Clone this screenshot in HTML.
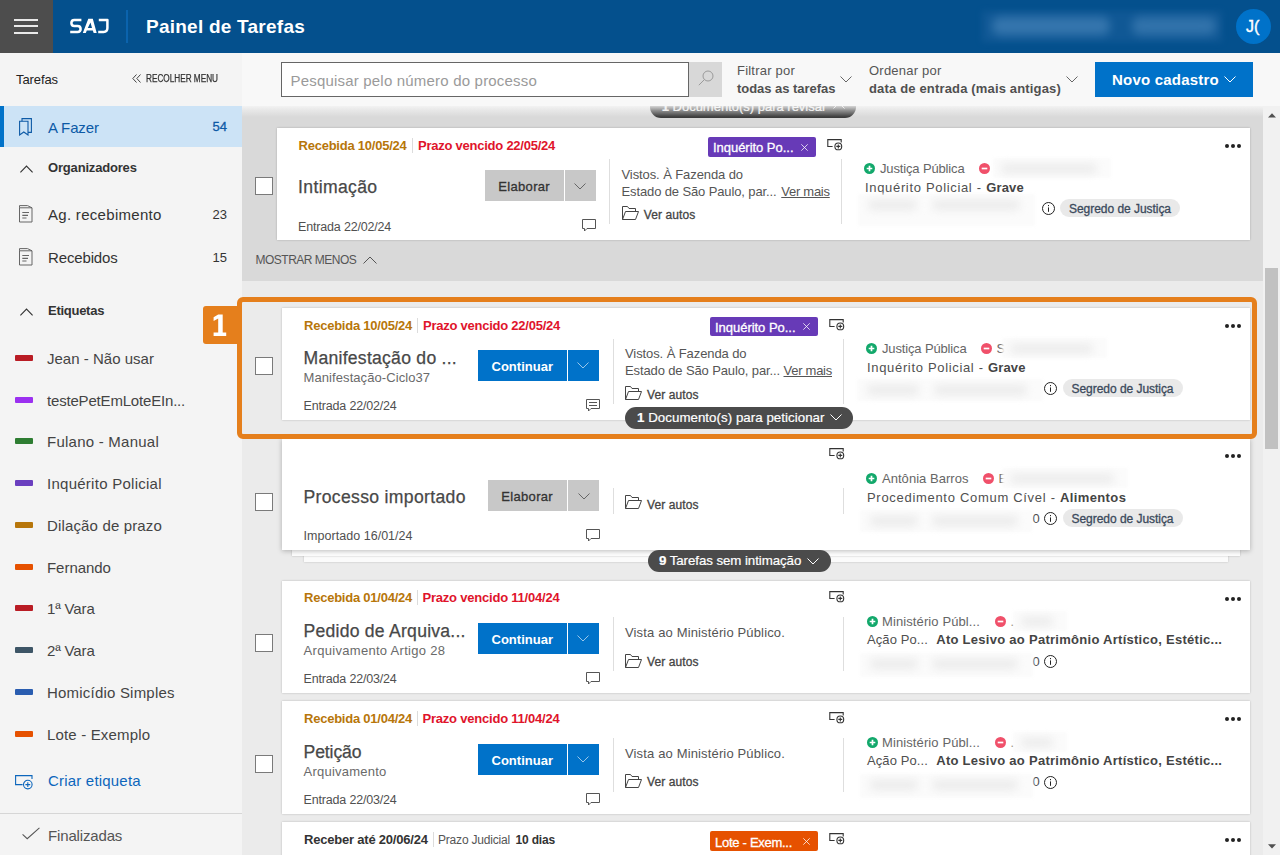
<!DOCTYPE html>
<html lang="pt-BR"><head>
<meta charset="utf-8">
<title>SAJ</title>
<style>
*{box-sizing:border-box;margin:0;padding:0}
html,body{width:1280px;height:855px;overflow:hidden;background:#ebebeb;font-family:"Liberation Sans",sans-serif;color:#333}
.abs{position:absolute}
.t{position:absolute;white-space:nowrap;line-height:1}
b{font-weight:bold}
/* header */
#hdr{position:absolute;left:0;top:0;width:1280px;height:53px;background:#04508d}
#burger{position:absolute;left:0;top:0;width:53px;height:53px;background:#4d4d4d}
#burger i{position:absolute;left:14px;width:24px;height:2px;background:#e9e9e9}
/* toolbar */
#tb{position:absolute;left:242px;top:53px;width:1038px;height:53px;background:#f8f8f8}
/* sidebar */
#sb{position:absolute;left:0;top:53px;width:242px;height:802px;background:#f4f4f4}
.lab{position:absolute;left:15px;width:18px;height:6px;border-radius:1px}
.ltx{position:absolute;margin-top:0.7px;left:47px;font-size:15px;color:#444;white-space:nowrap;line-height:1}
/* main */
#main{position:absolute;left:242px;top:106px;width:1021px;height:749px;background:#ebebeb;overflow:hidden}
#grp{position:absolute;left:0;top:0;width:1021px;height:174px;background:#d9d9d9}
#scr{position:absolute;left:1263px;top:106px;width:17px;height:749px;background:#f1f1f1}

/* cards */
#cl{position:absolute;left:0;top:0;width:1263px;height:855px;overflow:hidden}
.card{position:absolute;background:#fff;box-shadow:0 0 2px rgba(0,0,0,.22)}
.dt{font-weight:bold}
.ttl{color:#484848;-webkit-text-stroke:0.25px #484848}
.sub{color:#6a6a6a}
.ent{color:#505050}
.vd{position:absolute;width:1px;background:#dedede}
.dsc{color:#555}
.va{color:#444;-webkit-text-stroke:0.3px #444}
.pty{color:#666}
.cl{color:#505050;white-space:pre}
.clb b{font-weight:bold;color:#444}
.blr{position:absolute;background:#fbfbfb;filter:blur(1.5px)}
.smg{position:absolute;background:#ebebeb;filter:blur(4px);border-radius:5px}
.dots{position:absolute;width:16px;height:4px}
.dots i{position:absolute;top:0;width:4px;height:4px;border-radius:50%;background:#222}
.dots i:nth-child(1){left:0}.dots i:nth-child(2){left:6px}.dots i:nth-child(3){left:12px}
.cb{position:absolute;left:255px;width:18px;height:18px;background:#fff;border:1px solid #7a7a7a}
.pill{position:absolute;height:22px;border-radius:11px;background:#4b4b4b}
.pt{color:#fff;-webkit-text-stroke:0.2px #fff}
</style>
</head>
<body>
<!-- MAIN -->
<div id="cl">
  <div class="abs" style="left:242px;top:106px;width:1021px;height:175px;background:#d9d9d9"></div>
  <div class="pill" style="left:650px;top:96px;width:206px;background:#3c3c3c"></div>
  <div class="t pt" style="left: 661.7px; top: 100px; font-size: 13px; color: rgb(232, 232, 232); letter-spacing: -0.005px;"><b>1</b> Documento(s) para revisar</div>
  <svg class="abs" style="left:833px;top:102px" width="12" height="7" viewBox="0 0 12 7" fill="none" stroke="#ddd" stroke-width="1"><path d="M0.5 6.5 L6 1 L11.5 6.5"></path></svg>
  <div class="t" style="left: 255.5px; top: 253.8px; font-size: 12px; color: rgb(85, 85, 85); letter-spacing: -0.507px;" id="mm">MOSTRAR MENOS</div>
  <svg class="abs" style="left:363px;top:255.5px" width="14" height="8" viewBox="0 0 14 8" fill="none" stroke="#555" stroke-width="1"><path d="M0.5 7.5 L7 1 L13.5 7.5"></path></svg>
  <!-- stacked cards under card 3 -->
  <div class="abs" style="left:304px;top:550px;width:924px;height:12px;background:#fbfbfb;box-shadow:0 0 2px rgba(0,0,0,.2)"></div>
  <div class="abs" style="left:292px;top:550px;width:948px;height:6px;background:#fdfdfd;box-shadow:0 0 2px rgba(0,0,0,.25)"></div>
<div class="card" style="left:277px;top:128px;width:973px;height:112px;"></div>
<div class="t dt" style="left: 298.5px; top: 139px; font-size: 13px; color: rgb(183, 118, 10); letter-spacing: -0.237px;">Recebida 10/05/24</div>
<div class="abs" style="left:412.41px;top:138px;width:1px;height:15px;background:#dcdcdc"></div>
<div class="t dt" style="left: 418.05px; top: 139px; font-size: 13px; color: rgb(224, 20, 43); letter-spacing: -0.244px;">Prazo vencido 22/05/24</div>
<div class="t ttl" style="left: 298px; top: 179px; font-size: 17.6px; letter-spacing: 0.358px;">Intimação</div>
<div class="t ent" style="left: 298.1px; top: 221px; font-size: 12.5px; letter-spacing: -0.183px;">Entrada 22/02/24</div>
<div class="abs" style="left:485.0px;top:170px;width:79px;height:31px;background:#c8c8c8"></div>
<div class="t " style="left: 498.25px; top: 180px; font-size: 13px; color: rgb(51, 51, 51); -webkit-text-stroke: 0.3px rgb(51, 51, 51); letter-spacing: 0.326px;">Elaborar</div>
<div class="abs" style="left:565.0px;top:170px;width:31px;height:31px;background:#c8c8c8"></div>
<svg class="abs" style="left:573.97px;top:182.5px" width="12" height="7" viewBox="0 0 12 7" fill="none" stroke="#666" stroke-width="1"><path d="M0.5 0.5 L6 6 L11.5 0.5"></path></svg>
<svg class="abs" style="left:582.0px;top:219px" width="14" height="13" viewBox="0 0 14 13" fill="none" stroke="#555" stroke-width="1"><path d="M0.5 0.5 H13.5 V9.5 H5 L2.5 12 V9.5 H0.5 Z"></path></svg>
<div class="vd" style="left:609.0px;top:159px;height:65px"></div>
<div class="t dsc" style="left: 621.5px; top: 168px; font-size: 13px; letter-spacing: -0.092px;">Vistos. À Fazenda do</div>
<div class="t dsc" style="left: 621.5px; top: 185px; font-size: 13px; letter-spacing: -0.122px;">Estado de São Paulo, par...</div>
<div class="t dsc" style="left: 781.25px; top: 185px; font-size: 13px; letter-spacing: -0.26px;"><u>Ver mais</u></div>
<svg class="abs" style="left:621.5px;top:206px" width="17" height="14" viewBox="0 0 17 14" fill="none" stroke="#444" stroke-width="1"><path d="M0.5 13.5 V0.5 H5.5 L7 2.5 H13.5 V5.5"></path><path d="M0.5 13.5 L3.5 5.5 H16.5 L13.5 13.5 Z"></path></svg>
<div class="t va" style="left: 643.75px; top: 209px; font-size: 12px; letter-spacing: 0.089px;">Ver autos</div>
<div class="abs" style="left:708.0px;top:137px;width:108px;height:20px;border-radius:2px;background:#673ab7"></div>
<div class="t " style="left: 712.98px; top: 141px; font-size: 13px; color: rgb(255, 255, 255); -webkit-text-stroke: 0.3px rgb(255, 255, 255); letter-spacing: -0.03px;">Inquérito Po...</div>
<svg class="abs" style="left:801.16px;top:143.7px" width="7" height="7" viewBox="0 0 7 7" stroke="rgba(255,255,255,.85)" stroke-width="0.9" fill="none"><path d="M0.3 0.3 L6.7 6.7 M6.7 0.3 L0.3 6.7"></path></svg>
<svg class="abs" style="left:827.0px;top:138.75px" width="16" height="12" viewBox="0 0 16 12" fill="none" stroke="#333" stroke-width="1.1"><path d="M5.6 7.5 H0.8 V0.65 H14.2 V3.4"></path><circle cx="11.3" cy="7.4" r="3.4"></circle><path d="M11.3 5.4 V9.4 M9.3 7.4 H13.3"></path></svg>
<div class="vd" style="left:841.0px;top:159px;height:65px"></div>
<svg class="abs" style="left:864.0px;top:162.5px" width="11" height="11" viewBox="0 0 11 11"><circle cx="5.5" cy="5.5" r="5.5" fill="#12a86b"></circle><path d="M5.5 2.7 V8.3 M2.7 5.5 H8.3" stroke="#fff" stroke-width="1.7"></path></svg>
<div class="t pty" style="left: 880px; top: 162px; font-size: 13px; letter-spacing: -0.148px;">Justiça Pública</div>
<svg class="abs" style="left:979.0px;top:162.5px" width="11" height="11" viewBox="0 0 11 11"><circle cx="5.5" cy="5.5" r="5.5" fill="#f0506a"></circle><path d="M2.7 5.5 H8.3" stroke="#fff" stroke-width="1.7"></path></svg>
<div class="blr" style="left:992.5px;top:157.5px;width:118px;height:20px"></div>
<div class="smg" style="left:1000.5px;top:163.5px;width:96px;height:9px"></div>
<div class="t cl" style="left: 865px; top: 181px; font-size: 13px; letter-spacing: 0.669px;">Inquérito Policial - </div>
<div class="t cl clb" style="left: 986.25px; top: 181px; font-size: 13px; letter-spacing: 0.125px;"><b>Grave</b></div>
<div class="blr" style="left:858.0px;top:194px;width:177px;height:32px"></div>
<div class="smg" style="left:868.0px;top:200px;width:49px;height:10px"></div>
<div class="smg" style="left:931.72px;top:200px;width:88px;height:10px"></div>
<svg class="abs" style="left:1041.73px;top:202px" width="13" height="13" viewBox="0 0 13 13" fill="none" stroke="#222" stroke-width="1"><circle cx="6.5" cy="6.5" r="6"></circle><path d="M6.5 5.4 V9.8 M6.5 3 V4.2"></path></svg>
<div class="abs" style="left:1060.0px;top:199px;width:120px;height:18px;border-radius:9px;background:#e9e9e9"></div>
<div class="t " style="left: 1069px; top: 203px; font-size: 12px; color: rgb(59, 74, 92); -webkit-text-stroke: 0.3px rgb(59, 74, 92); letter-spacing: -0.041px;">Segredo de Justiça</div>
<div class="dots" style="left:1224.5px;top:143.5px"><i></i><i></i><i></i></div>
<div class="card" style="left:282px;top:308px;width:968px;height:112px;"></div>
<div class="t dt" style="left: 304px; top: 319px; font-size: 13px; color: rgb(183, 118, 10); letter-spacing: -0.237px;">Recebida 10/05/24</div>
<div class="abs" style="left:417px;top:318px;width:1px;height:15px;background:#dcdcdc"></div>
<div class="t dt" style="left: 423px; top: 319px; font-size: 13px; color: rgb(224, 20, 43); letter-spacing: -0.244px;">Prazo vencido 22/05/24</div>
<div class="t ttl" style="left: 303.5px; top: 350px; font-size: 17.6px; letter-spacing: 0.255px;">Manifestação do ...</div>
<div class="t sub" style="left: 303.6px; top: 371px; font-size: 13px; letter-spacing: 0.074px;">Manifestação-Ciclo37</div>
<div class="t ent" style="left: 303.6px; top: 400px; font-size: 12.5px; letter-spacing: -0.183px;">Entrada 22/02/24</div>
<div class="abs" style="left:478px;top:350px;width:89px;height:31px;background:#0072c9"></div>
<div class="t " style="left: 491.5px; top: 360px; font-size: 13px; color: rgb(255, 255, 255); font-weight: bold; letter-spacing: 0.012px;">Continuar</div>
<div class="abs" style="left:568px;top:350px;width:31px;height:31px;background:#0072c9"></div>
<svg class="abs" style="left:577px;top:362.2px" width="12" height="7" viewBox="0 0 12 7" fill="none" stroke="rgba(255,255,255,.6)" stroke-width="1"><path d="M0.5 0.5 L6 6 L11.5 0.5"></path></svg>
<svg class="abs" style="left:586px;top:399px" width="14" height="13" viewBox="0 0 14 13" fill="none" stroke="#555" stroke-width="1"><path d="M0.5 0.5 H13.5 V9.5 H5 L2.5 12 V9.5 H0.5 Z"></path><path d="M3 3.5 H11 M3 6.5 H11"></path></svg>
<div class="vd" style="left:613px;top:339px;height:65px"></div>
<div class="t dsc" style="left: 625px; top: 347px; font-size: 13px; letter-spacing: -0.092px;">Vistos. À Fazenda do</div>
<div class="t dsc" style="left: 625px; top: 364px; font-size: 13px; letter-spacing: -0.122px;">Estado de São Paulo, par...</div>
<div class="t dsc" style="left: 783.5px; top: 364px; font-size: 13px; letter-spacing: -0.26px;"><u>Ver mais</u></div>
<svg class="abs" style="left:625px;top:386px" width="17" height="14" viewBox="0 0 17 14" fill="none" stroke="#444" stroke-width="1"><path d="M0.5 13.5 V0.5 H5.5 L7 2.5 H13.5 V5.5"></path><path d="M0.5 13.5 L3.5 5.5 H16.5 L13.5 13.5 Z"></path></svg>
<div class="t va" style="left: 647px; top: 389px; font-size: 12px; letter-spacing: 0.089px;">Ver autos</div>
<div class="abs" style="left:710px;top:317px;width:108px;height:19px;border-radius:2px;background:#673ab7"></div>
<div class="t " style="left: 715px; top: 321px; font-size: 13px; color: rgb(255, 255, 255); -webkit-text-stroke: 0.3px rgb(255, 255, 255); letter-spacing: -0.03px;">Inquérito Po...</div>
<svg class="abs" style="left:803.3px;top:323.2px" width="7" height="7" viewBox="0 0 7 7" stroke="rgba(255,255,255,.85)" stroke-width="0.9" fill="none"><path d="M0.3 0.3 L6.7 6.7 M6.7 0.3 L0.3 6.7"></path></svg>
<svg class="abs" style="left:829px;top:319px" width="16" height="12" viewBox="0 0 16 12" fill="none" stroke="#333" stroke-width="1.1"><path d="M5.6 7.5 H0.8 V0.65 H14.2 V3.4"></path><circle cx="11.3" cy="7.4" r="3.4"></circle><path d="M11.3 5.4 V9.4 M9.3 7.4 H13.3"></path></svg>
<div class="vd" style="left:843px;top:339px;height:65px"></div>
<svg class="abs" style="left:866px;top:343px" width="11" height="11" viewBox="0 0 11 11"><circle cx="5.5" cy="5.5" r="5.5" fill="#12a86b"></circle><path d="M5.5 2.7 V8.3 M2.7 5.5 H8.3" stroke="#fff" stroke-width="1.7"></path></svg>
<div class="t pty" style="left: 882px; top: 342px; font-size: 13px; letter-spacing: -0.148px;">Justiça Pública</div>
<svg class="abs" style="left:981px;top:343px" width="11" height="11" viewBox="0 0 11 11"><circle cx="5.5" cy="5.5" r="5.5" fill="#f0506a"></circle><path d="M2.7 5.5 H8.3" stroke="#fff" stroke-width="1.7"></path></svg>
<div class="t pty" style="left:996.5px;top:342px;font-size:13px;">S</div>
<div class="blr" style="left:1002px;top:338px;width:105px;height:20px"></div>
<div class="smg" style="left:1010px;top:344px;width:83px;height:9px"></div>
<div class="t cl" style="left: 867px; top: 361px; font-size: 13px; letter-spacing: 0.669px;">Inquérito Policial - </div>
<div class="t cl clb" style="left: 988px; top: 361px; font-size: 13px; letter-spacing: 0.125px;"><b>Grave</b></div>
<div class="blr" style="left:857px;top:378.5px;width:186px;height:22px"></div>
<div class="smg" style="left:867px;top:384.5px;width:52px;height:10px"></div>
<div class="smg" style="left:933.96px;top:384.5px;width:93px;height:10px"></div>
<svg class="abs" style="left:1044px;top:382px" width="13" height="13" viewBox="0 0 13 13" fill="none" stroke="#222" stroke-width="1"><circle cx="6.5" cy="6.5" r="6"></circle><path d="M6.5 5.4 V9.8 M6.5 3 V4.2"></path></svg>
<div class="abs" style="left:1062.5px;top:379px;width:120px;height:18px;border-radius:9px;background:#e9e9e9"></div>
<div class="t " style="left: 1071.5px; top: 383px; font-size: 12px; color: rgb(59, 74, 92); -webkit-text-stroke: 0.3px rgb(59, 74, 92); letter-spacing: -0.041px;">Segredo de Justiça</div>
<div class="dots" style="left:1224.5px;top:323.5px"><i></i><i></i><i></i></div>
<div class="card" style="left:282px;top:438px;width:968px;height:112px;box-shadow:0 1px 5px rgba(0,0,0,.26);"></div>
<div class="t ttl" style="left: 303.5px; top: 489px; font-size: 17.6px; letter-spacing: 0.321px;">Processo importado</div>
<div class="t ent" style="left: 303.6px; top: 530px; font-size: 12.5px; letter-spacing: 0.032px;">Importado 16/01/24</div>
<div class="abs" style="left:488px;top:480px;width:79px;height:31px;background:#c8c8c8"></div>
<div class="t " style="left: 501.25px; top: 490px; font-size: 13px; color: rgb(51, 51, 51); -webkit-text-stroke: 0.3px rgb(51, 51, 51); letter-spacing: 0.326px;">Elaborar</div>
<div class="abs" style="left:568px;top:480px;width:31px;height:31px;background:#c8c8c8"></div>
<svg class="abs" style="left:577.5px;top:492.5px" width="12" height="7" viewBox="0 0 12 7" fill="none" stroke="#666" stroke-width="1"><path d="M0.5 0.5 L6 6 L11.5 0.5"></path></svg>
<svg class="abs" style="left:586px;top:529px" width="14" height="13" viewBox="0 0 14 13" fill="none" stroke="#555" stroke-width="1"><path d="M0.5 0.5 H13.5 V9.5 H5 L2.5 12 V9.5 H0.5 Z"></path></svg>
<div class="vd" style="left:613px;top:488px;height:26px"></div>
<svg class="abs" style="left:625px;top:495px" width="17" height="14" viewBox="0 0 17 14" fill="none" stroke="#444" stroke-width="1"><path d="M0.5 13.5 V0.5 H5.5 L7 2.5 H13.5 V5.5"></path><path d="M0.5 13.5 L3.5 5.5 H16.5 L13.5 13.5 Z"></path></svg>
<div class="t va" style="left: 647px; top: 499px; font-size: 12px; letter-spacing: 0.089px;">Ver autos</div>
<svg class="abs" style="left:829px;top:447.5px" width="16" height="12" viewBox="0 0 16 12" fill="none" stroke="#333" stroke-width="1.1"><path d="M5.6 7.5 H0.8 V0.65 H14.2 V3.4"></path><circle cx="11.3" cy="7.4" r="3.4"></circle><path d="M11.3 5.4 V9.4 M9.3 7.4 H13.3"></path></svg>
<div class="vd" style="left:843px;top:488px;height:26px"></div>
<svg class="abs" style="left:866px;top:472.5px" width="11" height="11" viewBox="0 0 11 11"><circle cx="5.5" cy="5.5" r="5.5" fill="#12a86b"></circle><path d="M5.5 2.7 V8.3 M2.7 5.5 H8.3" stroke="#fff" stroke-width="1.7"></path></svg>
<div class="t pty" style="left: 882px; top: 472px; font-size: 13px; letter-spacing: 0.036px;">Antônia Barros</div>
<svg class="abs" style="left:983px;top:472.5px" width="11" height="11" viewBox="0 0 11 11"><circle cx="5.5" cy="5.5" r="5.5" fill="#f0506a"></circle><path d="M2.7 5.5 H8.3" stroke="#fff" stroke-width="1.7"></path></svg>
<div class="t pty" style="left:998.5px;top:472px;font-size:13px;">E</div>
<div class="blr" style="left:1002px;top:467.5px;width:126px;height:20px"></div>
<div class="smg" style="left:1010px;top:473.5px;width:104px;height:9px"></div>
<div class="t cl" style="left: 867px; top: 491px; font-size: 13px; letter-spacing: 0.699px;">Procedimento Comum Cível - </div>
<div class="t cl clb" style="left: 1060px; top: 491px; font-size: 13px; letter-spacing: 0.378px;"><b>Alimentos</b></div>
<div class="t cl" style="left:1032.5px;top:512px;font-size:13px;">0</div>
<div class="blr" style="left:860px;top:510px;width:172px;height:22px"></div>
<div class="smg" style="left:870px;top:516px;width:48px;height:10px"></div>
<div class="smg" style="left:931.92px;top:516px;width:86px;height:10px"></div>
<svg class="abs" style="left:1044px;top:512px" width="13" height="13" viewBox="0 0 13 13" fill="none" stroke="#222" stroke-width="1"><circle cx="6.5" cy="6.5" r="6"></circle><path d="M6.5 5.4 V9.8 M6.5 3 V4.2"></path></svg>
<div class="abs" style="left:1062.5px;top:509px;width:120px;height:18px;border-radius:9px;background:#e9e9e9"></div>
<div class="t " style="left: 1071.5px; top: 513px; font-size: 12px; color: rgb(59, 74, 92); -webkit-text-stroke: 0.3px rgb(59, 74, 92); letter-spacing: -0.041px;">Segredo de Justiça</div>
<div class="dots" style="left:1224.5px;top:453.5px"><i></i><i></i><i></i></div>
<div class="card" style="left:282px;top:581px;width:968px;height:112px;"></div>
<div class="t dt" style="left: 304px; top: 591px; font-size: 13px; color: rgb(183, 118, 10); letter-spacing: -0.237px;">Recebida 01/04/24</div>
<div class="abs" style="left:417px;top:590px;width:1px;height:15px;background:#dcdcdc"></div>
<div class="t dt" style="left: 422.5px; top: 591px; font-size: 13px; color: rgb(224, 20, 43); letter-spacing: -0.211px;">Prazo vencido 11/04/24</div>
<div class="t ttl" style="left: 303.5px; top: 623px; font-size: 17.6px; letter-spacing: 0.238px;">Pedido de Arquiva...</div>
<div class="t sub" style="left: 303.6px; top: 644px; font-size: 13px; letter-spacing: 0.3px;">Arquivamento Artigo 28</div>
<div class="t ent" style="left: 303.6px; top: 673px; font-size: 12.5px; letter-spacing: -0.183px;">Entrada 22/03/24</div>
<div class="abs" style="left:478px;top:623px;width:89px;height:31px;background:#0072c9"></div>
<div class="t " style="left: 491.5px; top: 633px; font-size: 13px; color: rgb(255, 255, 255); font-weight: bold; letter-spacing: 0.012px;">Continuar</div>
<div class="abs" style="left:568px;top:623px;width:31px;height:31px;background:#0072c9"></div>
<svg class="abs" style="left:577px;top:635.2px" width="12" height="7" viewBox="0 0 12 7" fill="none" stroke="rgba(255,255,255,.6)" stroke-width="1"><path d="M0.5 0.5 L6 6 L11.5 0.5"></path></svg>
<svg class="abs" style="left:586px;top:672px" width="14" height="13" viewBox="0 0 14 13" fill="none" stroke="#555" stroke-width="1"><path d="M0.5 0.5 H13.5 V9.5 H5 L2.5 12 V9.5 H0.5 Z"></path></svg>
<div class="vd" style="left:613px;top:617px;height:54px"></div>
<div class="t dsc" style="left: 625px; top: 626px; font-size: 13px; letter-spacing: 0.148px;">Vista ao Ministério Público.</div>
<svg class="abs" style="left:625px;top:653.5px" width="17" height="14" viewBox="0 0 17 14" fill="none" stroke="#444" stroke-width="1"><path d="M0.5 13.5 V0.5 H5.5 L7 2.5 H13.5 V5.5"></path><path d="M0.5 13.5 L3.5 5.5 H16.5 L13.5 13.5 Z"></path></svg>
<div class="t va" style="left: 647px; top: 656px; font-size: 12px; letter-spacing: 0.089px;">Ver autos</div>
<svg class="abs" style="left:829px;top:591px" width="16" height="12" viewBox="0 0 16 12" fill="none" stroke="#333" stroke-width="1.1"><path d="M5.6 7.5 H0.8 V0.65 H14.2 V3.4"></path><circle cx="11.3" cy="7.4" r="3.4"></circle><path d="M11.3 5.4 V9.4 M9.3 7.4 H13.3"></path></svg>
<div class="vd" style="left:843px;top:617px;height:54px"></div>
<svg class="abs" style="left:867px;top:615.5px" width="11" height="11" viewBox="0 0 11 11"><circle cx="5.5" cy="5.5" r="5.5" fill="#12a86b"></circle><path d="M5.5 2.7 V8.3 M2.7 5.5 H8.3" stroke="#fff" stroke-width="1.7"></path></svg>
<div class="t pty" style="left: 882px; top: 615px; font-size: 13px; letter-spacing: 0.106px;">Ministério Públ...</div>
<svg class="abs" style="left:995px;top:615.5px" width="11" height="11" viewBox="0 0 11 11"><circle cx="5.5" cy="5.5" r="5.5" fill="#f0506a"></circle><path d="M2.7 5.5 H8.3" stroke="#fff" stroke-width="1.7"></path></svg>
<div class="t pty" style="left:1010.5px;top:615px;font-size:13px;">.</div>
<div class="blr" style="left:1012.5px;top:610.5px;width:54px;height:20px"></div>
<div class="smg" style="left:1020.5px;top:616.5px;width:32px;height:9px"></div>
<div class="t cl" style="left: 867px; top: 633px; font-size: 13px; letter-spacing: 0.102px;">Ação Po...</div>
<div class="t cl clb" style="left: 936.25px; top: 633px; font-size: 13px; letter-spacing: 0.276px;"><b>Ato Lesivo ao Patrimônio Artístico, Estétic...</b></div>
<div class="t cl" style="left:1032.5px;top:655px;font-size:13px;">0</div>
<div class="blr" style="left:860px;top:653px;width:173px;height:24px"></div>
<div class="smg" style="left:870px;top:659px;width:48px;height:10px"></div>
<div class="smg" style="left:932.28px;top:659px;width:86px;height:10px"></div>
<svg class="abs" style="left:1044px;top:655px" width="13" height="13" viewBox="0 0 13 13" fill="none" stroke="#222" stroke-width="1"><circle cx="6.5" cy="6.5" r="6"></circle><path d="M6.5 5.4 V9.8 M6.5 3 V4.2"></path></svg>
<div class="dots" style="left:1224.5px;top:596.5px"><i></i><i></i><i></i></div>
<div class="card" style="left:282px;top:701px;width:968px;height:113px;"></div>
<div class="t dt" style="left: 304px; top: 712px; font-size: 13px; color: rgb(183, 118, 10); letter-spacing: -0.237px;">Recebida 01/04/24</div>
<div class="abs" style="left:417px;top:710.5px;width:1px;height:15px;background:#dcdcdc"></div>
<div class="t dt" style="left: 422.5px; top: 712px; font-size: 13px; color: rgb(224, 20, 43); letter-spacing: -0.211px;">Prazo vencido 11/04/24</div>
<div class="t ttl" style="left: 303.5px; top: 744px; font-size: 17.6px; letter-spacing: -0.098px;">Petição</div>
<div class="t sub" style="left: 303.6px; top: 765px; font-size: 13px; letter-spacing: 0.232px;">Arquivamento</div>
<div class="t ent" style="left: 303.6px; top: 794px; font-size: 12.5px; letter-spacing: -0.183px;">Entrada 22/03/24</div>
<div class="abs" style="left:478px;top:743.5px;width:89px;height:31px;background:#0072c9"></div>
<div class="t " style="left: 491.5px; top: 754px; font-size: 13px; color: rgb(255, 255, 255); font-weight: bold; letter-spacing: 0.012px;">Continuar</div>
<div class="abs" style="left:568px;top:743.5px;width:31px;height:31px;background:#0072c9"></div>
<svg class="abs" style="left:577px;top:755.7px" width="12" height="7" viewBox="0 0 12 7" fill="none" stroke="rgba(255,255,255,.6)" stroke-width="1"><path d="M0.5 0.5 L6 6 L11.5 0.5"></path></svg>
<svg class="abs" style="left:586px;top:792.5px" width="14" height="13" viewBox="0 0 14 13" fill="none" stroke="#555" stroke-width="1"><path d="M0.5 0.5 H13.5 V9.5 H5 L2.5 12 V9.5 H0.5 Z"></path></svg>
<div class="vd" style="left:613px;top:737.5px;height:54px"></div>
<div class="t dsc" style="left: 625px; top: 747px; font-size: 13px; letter-spacing: 0.148px;">Vista ao Ministério Público.</div>
<svg class="abs" style="left:625px;top:774.0px" width="17" height="14" viewBox="0 0 17 14" fill="none" stroke="#444" stroke-width="1"><path d="M0.5 13.5 V0.5 H5.5 L7 2.5 H13.5 V5.5"></path><path d="M0.5 13.5 L3.5 5.5 H16.5 L13.5 13.5 Z"></path></svg>
<div class="t va" style="left: 647px; top: 776px; font-size: 12px; letter-spacing: 0.089px;">Ver autos</div>
<svg class="abs" style="left:829px;top:711.5px" width="16" height="12" viewBox="0 0 16 12" fill="none" stroke="#333" stroke-width="1.1"><path d="M5.6 7.5 H0.8 V0.65 H14.2 V3.4"></path><circle cx="11.3" cy="7.4" r="3.4"></circle><path d="M11.3 5.4 V9.4 M9.3 7.4 H13.3"></path></svg>
<div class="vd" style="left:843px;top:737.5px;height:54px"></div>
<svg class="abs" style="left:867px;top:736.5px" width="11" height="11" viewBox="0 0 11 11"><circle cx="5.5" cy="5.5" r="5.5" fill="#12a86b"></circle><path d="M5.5 2.7 V8.3 M2.7 5.5 H8.3" stroke="#fff" stroke-width="1.7"></path></svg>
<div class="t pty" style="left: 882px; top: 736px; font-size: 13px; letter-spacing: 0.106px;">Ministério Públ...</div>
<svg class="abs" style="left:995px;top:736.5px" width="11" height="11" viewBox="0 0 11 11"><circle cx="5.5" cy="5.5" r="5.5" fill="#f0506a"></circle><path d="M2.7 5.5 H8.3" stroke="#fff" stroke-width="1.7"></path></svg>
<div class="t pty" style="left:1010.5px;top:736px;font-size:13px;">.</div>
<div class="blr" style="left:1012.5px;top:731.5px;width:54px;height:20px"></div>
<div class="smg" style="left:1020.5px;top:737.5px;width:32px;height:9px"></div>
<div class="t cl" style="left: 867px; top: 754px; font-size: 13px; letter-spacing: 0.102px;">Ação Po...</div>
<div class="t cl clb" style="left: 936.25px; top: 754px; font-size: 13px; letter-spacing: 0.276px;"><b>Ato Lesivo ao Patrimônio Artístico, Estétic...</b></div>
<div class="t cl" style="left:1032.5px;top:775px;font-size:13px;">0</div>
<div class="blr" style="left:860px;top:773.5px;width:173px;height:24px"></div>
<div class="smg" style="left:870px;top:779.5px;width:48px;height:10px"></div>
<div class="smg" style="left:932.28px;top:779.5px;width:86px;height:10px"></div>
<svg class="abs" style="left:1044px;top:775.5px" width="13" height="13" viewBox="0 0 13 13" fill="none" stroke="#222" stroke-width="1"><circle cx="6.5" cy="6.5" r="6"></circle><path d="M6.5 5.4 V9.8 M6.5 3 V4.2"></path></svg>
<div class="dots" style="left:1224.5px;top:717.0px"><i></i><i></i><i></i></div>
<div class="card" style="left:282px;top:822px;width:968px;height:112px;"></div>
<div class="t dt" style="left: 304px; top: 833px; font-size: 13px; color: rgb(51, 51, 51); letter-spacing: -0.209px;">Receber até 20/06/24</div>
<div class="abs" style="left:432.5px;top:831.75px;width:1px;height:15px;background:#dcdcdc"></div>
<div class="t dt" style="left: 438px; top: 834px; font-size: 12px; color: rgb(85, 85, 85); font-weight: normal; letter-spacing: -0.193px;">Prazo Judicial</div>
<div class="t dt" style="left: 515.5px; top: 834px; font-size: 12px; color: rgb(51, 51, 51); letter-spacing: -0.172px;">10 dias</div>
<div class="abs" style="left:710px;top:831px;width:108px;height:20px;border-radius:2px;background:#e65100"></div>
<div class="t " style="left: 715px; top: 836px; font-size: 13px; color: rgb(255, 255, 255); -webkit-text-stroke: 0.3px rgb(255, 255, 255); letter-spacing: -0.28px;">Lote - Exem...</div>
<svg class="abs" style="left:803.3px;top:837.7px" width="7" height="7" viewBox="0 0 7 7" stroke="rgba(255,255,255,.85)" stroke-width="0.9" fill="none"><path d="M0.3 0.3 L6.7 6.7 M6.7 0.3 L0.3 6.7"></path></svg>
<svg class="abs" style="left:829px;top:833px" width="16" height="12" viewBox="0 0 16 12" fill="none" stroke="#333" stroke-width="1.1"><path d="M5.6 7.5 H0.8 V0.65 H14.2 V3.4"></path><circle cx="11.3" cy="7.4" r="3.4"></circle><path d="M11.3 5.4 V9.4 M9.3 7.4 H13.3"></path></svg>
<div class="dots" style="left:1224.5px;top:837.5px"><i></i><i></i><i></i></div>
  <div class="cb" style="top:177px"></div>
  <div class="cb" style="top:357px"></div>
  <div class="cb" style="top:493px"></div>
  <div class="cb" style="top:634px"></div>
  <div class="cb" style="top:755px"></div>
  <div class="pill" style="left:625px;top:407px;width:228px"></div>
  <div class="t pt" style="left: 637px; top: 411px; font-size: 13.3px; letter-spacing: 0.041px;"><b>1</b> Documento(s) para peticionar</div>
  <svg class="abs" style="left:829.7px;top:414.3px" width="12" height="7" viewBox="0 0 12 7" fill="none" stroke="#fff" stroke-width="1"><path d="M0.5 0.5 L6 6 L11.5 0.5"></path></svg>
  <div class="pill" style="left:648px;top:550px;width:183px"></div>
  <div class="t pt" style="left: 659px; top: 554px; font-size: 13.3px; letter-spacing: -0.071px;"><b>9</b> Tarefas sem intimação</div>
  <svg class="abs" style="left:806.5px;top:557.7px" width="12" height="7" viewBox="0 0 12 7" fill="none" stroke="#fff" stroke-width="1"><path d="M0.5 0.5 L6 6 L11.5 0.5"></path></svg>
</div>
<div id="scr">
  <div class="abs" style="left:2px;top:162px;width:13px;height:181px;background:#c1c1c1"></div>
  <svg class="abs" style="left:4.5px;top:6.5px" width="8" height="5" viewBox="0 0 8 5"><path d="M0 4.6 L4 0.2 L8 4.6Z" fill="#505050"></path></svg>
  <svg class="abs" style="left:4.5px;top:737.6px" width="8" height="5" viewBox="0 0 8 5"><path d="M0 0.2 L4 4.6 L8 0.2Z" fill="#505050"></path></svg>
</div>

<!-- SIDEBAR -->
<div id="sb">
  <div class="t" style="left: 16px; top: 20px; font-size: 13px; color: rgb(34, 34, 34); letter-spacing: -0.092px;">Tarefas</div>
  <svg class="abs" style="left:132px;top:21px" width="9" height="9" viewBox="0 0 9 9" fill="none" stroke="#444" stroke-width="1"><path d="M4.5 0.5 L0.8 4.5 L4.5 8.5 M8.5 0.5 L4.8 4.5 L8.5 8.5"></path></svg>
  <div class="t" style="left:146px;top:21px;font-size:10px;color:#333;-webkit-text-stroke:0.25px #333;transform:scaleX(0.82);transform-origin:0 0">RECOLHER MENU</div>

  <div class="abs" style="left:0;top:53px;width:242px;height:41px;background:#cce3f6;border-left:4px solid #0072c9"></div>
  <svg class="abs" style="left:19px;top:65px" width="14" height="18" viewBox="0 0 14 18" fill="none" stroke="#0d5aa6" stroke-width="1.1"><path d="M0.6 3.2 V17 L4.8 14 L9 17 V3.2 Z"></path><path d="M3 3.2 V0.6 H12.4 V14.4 H9"></path></svg>
  <div class="t" style="left: 48px; top: 66.5px; font-size: 15px; color: rgb(13, 90, 166); letter-spacing: -0.127px;">A Fazer</div>
  <div class="t" style="right:15px;top:67px;font-size:13px;color:#0d5aa6;-webkit-text-stroke:0.3px #0d5aa6">54</div>

  <svg class="abs" style="left:20px;top:112px" width="13" height="8" viewBox="0 0 13 8" fill="none" stroke="#333" stroke-width="1.1"><path d="M0.4 7.3 L6.5 1 L12.6 7.3"></path></svg>
  <div class="t" style="left: 48px; top: 108px; font-size: 13px; color: rgb(51, 51, 51); font-weight: bold; letter-spacing: -0.179px;">Organizadores</div>

  <svg class="abs doc" style="left:19px;top:151.7px" width="14" height="18" viewBox="0 0 14 18" fill="none" stroke="#666" stroke-width="1"><path d="M0.5 2.8 V17 H13 V2.8 L8.5 0.6 H0.5 V2.8 H13"></path><path d="M3.3 7.5 H10 M3.3 10.3 H9 M3.3 13 H7.5" stroke-width="1.2"></path></svg>
  <div class="t" style="left: 48px; top: 154px; font-size: 15px; color: rgb(51, 51, 51); letter-spacing: 0.298px;">Ag. recebimento</div>
  <div class="t" style="right:15px;top:155px;font-size:13px;color:#333">23</div>

  <svg class="abs doc" style="left:19px;top:194.7px" width="14" height="18" viewBox="0 0 14 18" fill="none" stroke="#666" stroke-width="1"><path d="M0.5 2.8 V17 H13 V2.8 L8.5 0.6 H0.5 V2.8 H13"></path><path d="M3.3 7.5 H10 M3.3 10.3 H9 M3.3 13 H7.5" stroke-width="1.2"></path></svg>
  <div class="t" style="left: 48px; top: 197px; font-size: 15px; color: rgb(51, 51, 51); letter-spacing: -0.143px;">Recebidos</div>
  <div class="t" style="right:15px;top:198px;font-size:13px;color:#333">15</div>

  <svg class="abs" style="left:20px;top:255px" width="13" height="8" viewBox="0 0 13 8" fill="none" stroke="#333" stroke-width="1.1"><path d="M0.4 7.3 L6.5 1 L12.6 7.3"></path></svg>
  <div class="t" style="left: 48px; top: 251px; font-size: 13px; color: rgb(51, 51, 51); font-weight: bold; letter-spacing: -0.268px;">Etiquetas</div>

  <div class="lab" style="top:302px;background:#b91c24"></div><div class="ltx" style="top: 297px; letter-spacing: 0.011px;">Jean - Não usar</div>
  <div class="lab" style="top:344px;background:#9b30f0"></div><div class="ltx" style="top: 339px; letter-spacing: -0.183px;">testePetEmLoteEIn...</div>
  <div class="lab" style="top:385px;background:#2e7d32"></div><div class="ltx" style="top: 380px; letter-spacing: 0.24px;">Fulano - Manual</div>
  <div class="lab" style="top:427px;background:#6a3fbf"></div><div class="ltx" style="top: 422px; letter-spacing: 0.263px;">Inquérito Policial</div>
  <div class="lab" style="top:469px;background:#b7760a"></div><div class="ltx" style="top: 464px; letter-spacing: 0.151px;">Dilação de prazo</div>
  <div class="lab" style="top:511px;background:#e65100"></div><div class="ltx" style="top: 506px; letter-spacing: -0.04px;">Fernando</div>
  <div class="lab" style="top:552px;background:#b91c24"></div><div class="ltx" style="top: 547px; letter-spacing: -0.149px;">1ª Vara</div>
  <div class="lab" style="top:594px;background:#3d5566"></div><div class="ltx" style="top: 589px; letter-spacing: -0.149px;">2ª Vara</div>
  <div class="lab" style="top:636px;background:#2a5db0"></div><div class="ltx" style="top: 631px; letter-spacing: 0.205px;">Homicídio Simples</div>
  <div class="lab" style="top:678px;background:#e65100"></div><div class="ltx" style="top: 673px; letter-spacing: 0.165px;">Lote - Exemplo</div>

  <svg class="abs" style="left:15px;top:722px" width="19" height="15" viewBox="0 0 19 15" fill="none" stroke="#0c66bc" stroke-width="1.1"><path d="M7.6 9.6 H0.6 V0.6 H17 V4"></path><circle cx="12.8" cy="9.6" r="4.3"></circle><path d="M12.8 7.2 V12 M10.4 9.6 H15.2"></path></svg>
  <div class="t" style="left: 48px; top: 720px; font-size: 15px; color: rgb(12, 102, 188); letter-spacing: 0.197px;">Criar etiqueta</div>

  <div class="abs" style="left:0;top:760px;width:242px;height:1px;background:#d6d6d6"></div>
  <svg class="abs" style="left:21.5px;top:773.5px" width="18" height="13" viewBox="0 0 19 13" fill="none" stroke="#555" stroke-width="1.1"><path d="M0.6 7.5 L5.5 12 L18.4 0.6"></path></svg>
  <div class="t" style="left: 48px; top: 774.7px; font-size: 15px; color: rgb(85, 85, 85); letter-spacing: -0.152px;">Finalizadas</div>
</div>

<!-- HIGHLIGHT -->
<div class="abs" style="left:237px;top:297px;width:1020px;height:142px;border:5px solid #e57f1c;border-radius:6px"></div>
<div class="abs" style="left:203px;top:306px;width:36px;height:38px;background:#e57f1c;border-radius:3px 0 0 3px"></div>
<svg class="abs" style="left:213px;top:314px" width="14" height="23" viewBox="0 0 14 23"><path d="M5.2 0.6 H9.7 V18.5 H13.2 V22 H0.6 V18.5 H5.2 V4.6 L0.6 6.9 V3.3 Z" fill="#fff"></path></svg>
<!-- TOOLBAR -->
<div id="tb">
  <div class="abs" style="left:0;top:52px;width:1021px;height:12px;background:linear-gradient(rgba(248,248,248,.9),rgba(248,248,248,.45) 45%,rgba(248,248,248,0))"></div>
  <div class="abs" style="left:39px;top:9px;width:408px;height:35px;background:#fff;border:1px solid #666"></div>
  <div class="t" style="left: 48.5px; top: 19.5px; font-size: 15px; color: rgb(154, 154, 154); letter-spacing: 0.193px;">Pesquisar pelo número do processo</div>
  <div class="abs" style="left:447px;top:9px;width:33px;height:35px;background:#d8d8d8"></div>
  <svg class="abs" style="left:456px;top:17.3px" width="16" height="16" viewBox="0 0 16 16" fill="none" stroke="#9a9a9a" stroke-width="1"><circle cx="10" cy="6" r="5"></circle><path d="M6.4 9.6 L0.8 15.2"></path></svg>
  <div class="t" style="left: 495px; top: 11px; font-size: 13px; color: rgb(85, 85, 85); letter-spacing: 0.216px;">Filtrar por</div>
  <div class="t" style="left: 495px; top: 29px; font-size: 13px; color: rgb(80, 80, 80); font-weight: bold; letter-spacing: -0.031px;">todas as tarefas</div>
  <svg class="abs" style="left:598px;top:23px" width="12" height="7" viewBox="0 0 12 7" fill="none" stroke="#666" stroke-width="1"><path d="M0.5 0.5 L6 6 L11.5 0.5"></path></svg>
  <div class="t" style="left: 627px; top: 11px; font-size: 13px; color: rgb(85, 85, 85); letter-spacing: 0.219px;">Ordenar por</div>
  <div class="t" style="left: 627px; top: 29px; font-size: 13px; color: rgb(80, 80, 80); font-weight: bold; letter-spacing: 0.163px;">data de entrada (mais antigas)</div>
  <svg class="abs" style="left:824px;top:23px" width="12" height="7" viewBox="0 0 12 7" fill="none" stroke="#666" stroke-width="1"><path d="M0.5 0.5 L6 6 L11.5 0.5"></path></svg>
  <div class="abs" style="left:853px;top:9px;width:158px;height:35px;background:#0072c9"></div>
  <div class="t" style="left: 870px; top: 19px; font-size: 15px; color: rgb(255, 255, 255); font-weight: bold; letter-spacing: 0.215px;">Novo cadastro</div>
  <svg class="abs" style="left:982px;top:23px" width="12" height="7" viewBox="0 0 12 7" fill="none" stroke="#fff" stroke-width="1"><path d="M0.5 0.5 L6 6 L11.5 0.5"></path></svg>
</div>

<!-- HEADER -->
<div id="hdr">
  <div id="burger"><i style="top:18.5px"></i><i style="top:25px"></i><i style="top:31.5px"></i></div>
  <svg class="abs" style="left:68px;top:16px" width="44" height="20" viewBox="68 16 44 20" fill="none" stroke="#fff" stroke-width="2.5" stroke-linejoin="round"><path d="M81.4 20 H74.3 Q71.4 20 71.4 23 Q71.4 26 74.3 26 H77.6 Q80.6 26 80.6 29 Q80.6 31.9 77.6 31.9 H70.2"></path><path d="M82.8 33.1 L88.3 18.8 H92.8 L96.7 33.1 H93.7 L92.8 30.5 H86.8 L85.8 33.1 Z M87.8 28 H92 L90.5 22.6 Z" fill="#fff" fill-rule="evenodd" stroke="none"></path><path d="M98.8 20 H107.4 V28 Q107.4 31.9 103.6 31.9 H98.2"></path></svg>
  <div class="abs" style="left:126px;top:10px;width:2px;height:33px;background:#0b63ad"></div>
  <div class="t" style="left: 146px; top: 17px; font-size: 19px; color: rgb(255, 255, 255); font-weight: bold; letter-spacing: 0.242px;">Painel de Tarefas</div>
  <div class="abs" style="left:982px;top:11px;width:240px;height:31px;background:#1a5f9c;filter:blur(3px);opacity:.55"></div>
  <div class="abs" style="left:992px;top:17px;width:118px;height:18px;background:#5a93c6;filter:blur(5px);opacity:.5;border-radius:8px"></div>
  <div class="abs" style="left:1132px;top:17px;width:84px;height:18px;background:#5a93c6;filter:blur(5px);opacity:.45;border-radius:8px"></div>
  <div class="abs" style="left:1236px;top:9px;width:35px;height:35px;border-radius:50%;background:#0072c9"></div>
  <div class="t" style="left:1246px;top:19px;font-size:16px;color:#fff;-webkit-text-stroke:0.4px #fff">J(</div>
</div>


</body></html>
